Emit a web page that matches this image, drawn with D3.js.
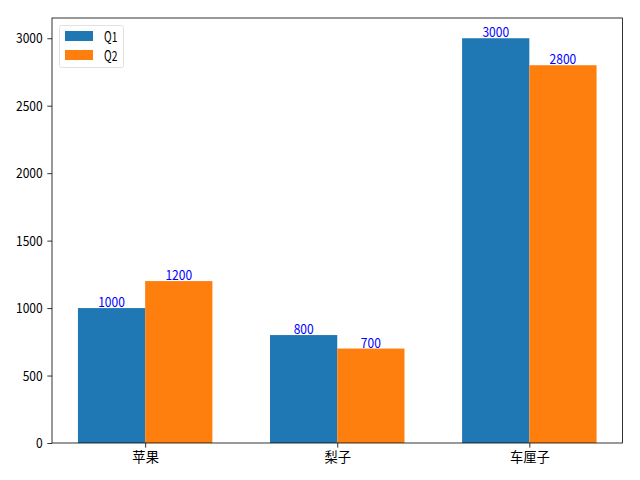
<!DOCTYPE html>
<html>
<head>
<meta charset="utf-8">
<script src="https://cdn.jsdelivr.net/npm/d3@7"></script>
<style>
  html, body { margin: 0; padding: 0; background: #fff; }
  svg { display: block; }
  .num { font-family: "Noto Sans CJK SC", sans-serif; }
  .cjk { font-family: "Noto Sans CJK SC", sans-serif; }
</style>
</head>
<body>
<svg id="chart" width="640" height="480"></svg>
<script>
const categories = ["苹果", "梨子", "车厘子"];
const seriesNames = ["Q1", "Q2"];
const q1Values = [1000, 800, 3000];
const q2Values = [1200, 700, 2800];
const yTicks = [0, 500, 1000, 1500, 2000, 2500, 3000];

const colors = ["#1f77b4", "#ff7f0e"];
const series = [q1Values, q2Values];
const barW = 0.35;
const halfW = 6.67; // half-width glyph advance

const plotL = 52, plotR = 622.5, plotT = 18, plotB = 443;
const svg = d3.select("#chart");

const x = d3.scaleLinear().domain([-0.485, 2.485]).range([plotL, plotR]);
const maxV = d3.max(series.flat());
const y = d3.scaleLinear().domain([0, maxV * 1.05]).range([plotB, plotT]);

function narrow(sel) {
  sel.each(function () {
    const t = d3.select(this);
    const s = t.text();
    t.attr("textLength", s.length * halfW).attr("lengthAdjust", "spacingAndGlyphs");
  });
}

// bars
series.forEach((vals, si) => {
  const off = si === 0 ? -barW / 2 : barW / 2;
  svg.append("g").selectAll("rect").data(vals).enter().append("rect")
    .attr("x", (d, i) => x(i + off - barW / 2))
    .attr("width", (d, i) => x(i + off + barW / 2) - x(i + off - barW / 2))
    .attr("y", d => y(d))
    .attr("height", d => y(0) - y(d))
    .attr("fill", colors[si]);
  svg.append("g").selectAll("text").data(vals).enter().append("text")
    .attr("class", "num")
    .attr("x", (d, i) => x(i + off))
    .attr("y", d => y(d) - 1)
    .attr("text-anchor", "middle")
    .attr("font-size", 14)
    .attr("fill", "blue")
    .text(d => d)
    .call(narrow);
});

// axes
const yAxis = d3.axisLeft(y).tickValues(yTicks).tickSize(4.67).tickPadding(4.67).tickFormat(d3.format("d"));
const gy = svg.append("g").attr("transform", `translate(${plotL},0)`).call(yAxis);
gy.select(".domain").remove();
gy.selectAll("text").attr("class", "num").attr("font-size", 14).attr("fill", "#000").call(narrow);
gy.selectAll("line").attr("stroke", "#000").attr("stroke-width", 0.8);

const xAxis = d3.axisBottom(x).tickValues([0, 1, 2]).tickSize(4.67).tickPadding(4.67).tickFormat(i => categories[i]);
const gx = svg.append("g").attr("transform", `translate(0,${plotB})`).call(xAxis);
gx.select(".domain").remove();
gx.selectAll("text").attr("class", "cjk").attr("font-size", 13.3).attr("fill", "#000");
gx.selectAll("line").attr("stroke", "#000").attr("stroke-width", 0.8);

// frame
svg.append("rect").attr("x", plotL).attr("y", plotT)
  .attr("width", plotR - plotL).attr("height", plotB - plotT)
  .attr("fill", "none").attr("stroke", "#000").attr("stroke-width", 0.8);

// legend
const lg = svg.append("g");
lg.append("rect").attr("x", 59.5).attr("y", 25.5).attr("width", 64).attr("height", 42)
  .attr("rx", 2).attr("fill", "#fff").attr("fill-opacity", 0.8)
  .attr("stroke", "#d9d9d9").attr("stroke-width", 0.8);
seriesNames.forEach((n, i) => {
  lg.append("rect").attr("x", 65).attr("y", 31 + i * 19).attr("width", 28).attr("height", 10)
    .attr("fill", colors[i]);
  lg.append("text").attr("class", "num").attr("x", 104).attr("y", 36 + i * 19)
    .attr("dominant-baseline", "central").attr("font-size", 14).attr("fill", "#000").text(n)
    .call(narrow);
});
</script>
</body>
</html>
